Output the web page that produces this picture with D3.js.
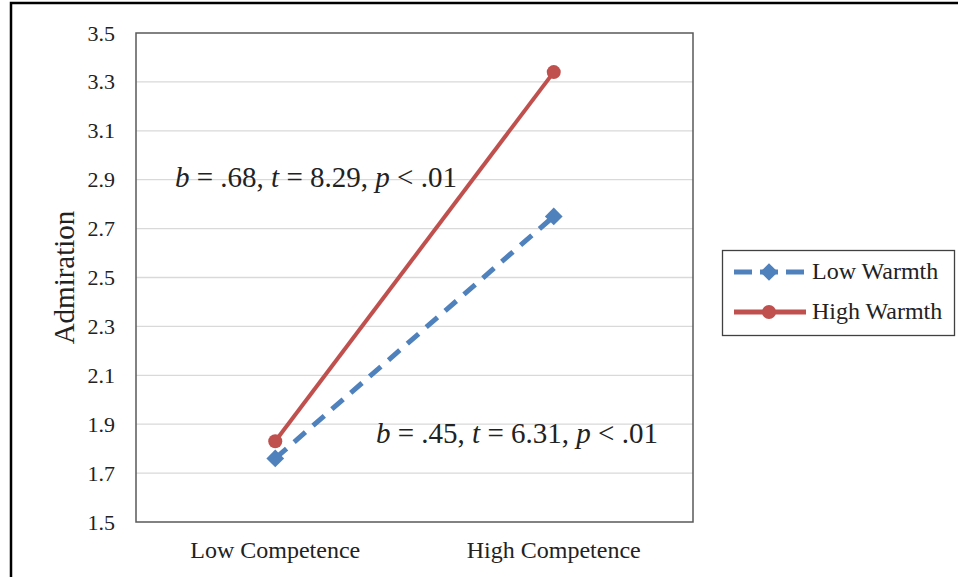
<!DOCTYPE html>
<html>
<head>
<meta charset="utf-8">
<script src="https://cdn.jsdelivr.net/npm/d3@7"></script>
<style>
  body { margin: 0; background: #fff; }
  text { font-family: "Liberation Serif", "Times New Roman", serif; fill: #222; }
</style>
</head>
<body>
<script>
// categories and series
var categories = ["Low Competence", "High Competence"];
var lowWarmth = [1.76, 2.75];
var highWarmth = [1.83, 3.34];
var yTicks = [1.5, 1.7, 1.9, 2.1, 2.3, 2.5, 2.7, 2.9, 3.1, 3.3, 3.5];
var seriesNames = ["Low Warmth", "High Warmth"];

var width = 958, height = 577;
var plot = {left: 136, top: 33, right: 693, bottom: 522};

var svg = d3.select("body").append("svg")
    .attr("width", width).attr("height", height);

// outer frame
svg.append("rect")
    .attr("x", 11).attr("y", 3)
    .attr("width", 1000).attr("height", 700)
    .attr("fill", "none").attr("stroke", "#000").attr("stroke-width", 2.5);

var x = d3.scaleBand().domain(categories).range([plot.left, plot.right]);
var y = d3.scaleLinear().domain([1.5, 3.5]).range([plot.bottom, plot.top]);

// gridlines
svg.append("g").selectAll("line").data(yTicks.slice(1, -1)).enter().append("line")
    .attr("x1", plot.left).attr("x2", plot.right)
    .attr("y1", function(d) { return y(d); }).attr("y2", function(d) { return y(d); })
    .attr("stroke", "#d9d9d9").attr("stroke-width", 1.3);

// plot border
svg.append("rect")
    .attr("x", plot.left).attr("y", plot.top)
    .attr("width", plot.right - plot.left).attr("height", plot.bottom - plot.top)
    .attr("fill", "none").attr("stroke", "#595959").attr("stroke-width", 1.5);

// y axis
var yAxis = svg.append("g")
    .attr("transform", "translate(" + plot.left + ",0)")
    .call(d3.axisLeft(y).tickValues(yTicks).tickFormat(d3.format(".1f")).tickSize(0).tickPadding(21));
yAxis.select(".domain").remove();
yAxis.selectAll("text").style("font-size", "22px").style("font-family", "Liberation Serif").attr("fill", "#222");

// x axis
var xAxis = svg.append("g")
    .attr("transform", "translate(0," + plot.bottom + ")")
    .call(d3.axisBottom(x).tickSize(0).tickPadding(19));
xAxis.select(".domain").remove();
xAxis.selectAll("text").style("font-size", "24px").style("font-family", "Liberation Serif").attr("fill", "#222");

// y label
svg.append("text")
    .attr("transform", "translate(74," + ((plot.top + plot.bottom) / 2) + ") rotate(-90)")
    .attr("text-anchor", "middle")
    .style("font-size", "29px")
    .text("Admiration");

var blue = "#4f81bd", red = "#c0504d";
var cx = function(i) { return x(categories[i]) + x.bandwidth() / 2; };

var line = d3.line()
    .x(function(d, i) { return cx(i); })
    .y(function(d) { return y(d); });

svg.append("path").datum(lowWarmth)
    .attr("d", line).attr("fill", "none")
    .attr("stroke", blue).attr("stroke-width", 5)
    .attr("stroke-dasharray", "15,10");

svg.append("path").datum(highWarmth)
    .attr("d", line).attr("fill", "none")
    .attr("stroke", red).attr("stroke-width", 4);

var diamond = d3.symbol().type(d3.symbolDiamond2).size(200);
svg.append("g").selectAll("path").data(lowWarmth).enter().append("path")
    .attr("d", diamond)
    .attr("transform", function(d, i) { return "translate(" + cx(i) + "," + y(d) + ")"; })
    .attr("fill", blue);

svg.append("g").selectAll("circle").data(highWarmth).enter().append("circle")
    .attr("cx", function(d, i) { return cx(i); })
    .attr("cy", function(d) { return y(d); })
    .attr("r", 7)
    .attr("fill", red);

// annotations
function annot(tx, ty, parts) {
    var t = svg.append("text").attr("x", tx).attr("y", ty).style("font-size", "29px");
    parts.forEach(function(p) {
        t.append("tspan").text(p[0]).style("font-style", p[1] ? "italic" : "normal");
    });
}
annot(175, 187, [["b", 1], [" = .68, ", 0], ["t", 1], [" = 8.29, ", 0], ["p", 1], [" < .01", 0]]);
annot(376, 443, [["b", 1], [" = .45, ", 0], ["t", 1], [" = 6.31, ", 0], ["p", 1], [" < .01", 0]]);

// legend
var lg = svg.append("g");
lg.append("rect")
    .attr("x", 722.5).attr("y", 250.5).attr("width", 232).attr("height", 85)
    .attr("fill", "#fff").attr("stroke", "#404040").attr("stroke-width", 1.3);

var rows = [
    {name: seriesNames[0], color: blue, dash: "18,8", y: 272},
    {name: seriesNames[1], color: red, dash: null, y: 312}
];
rows.forEach(function(r, i) {
    lg.append("line")
        .attr("x1", 734).attr("x2", 806).attr("y1", r.y).attr("y2", r.y)
        .attr("stroke", r.color).attr("stroke-width", 5)
        .attr("stroke-dasharray", r.dash);
    if (i === 0) {
        lg.append("path").attr("d", diamond)
            .attr("transform", "translate(769," + r.y + ")").attr("fill", r.color);
    } else {
        lg.append("circle").attr("cx", 769).attr("cy", r.y).attr("r", 7).attr("fill", r.color);
    }
    lg.append("text")
        .attr("x", 812).attr("y", r.y + 7)
        .style("font-size", "24px")
        .text(r.name);
});
</script>
</body>
</html>
